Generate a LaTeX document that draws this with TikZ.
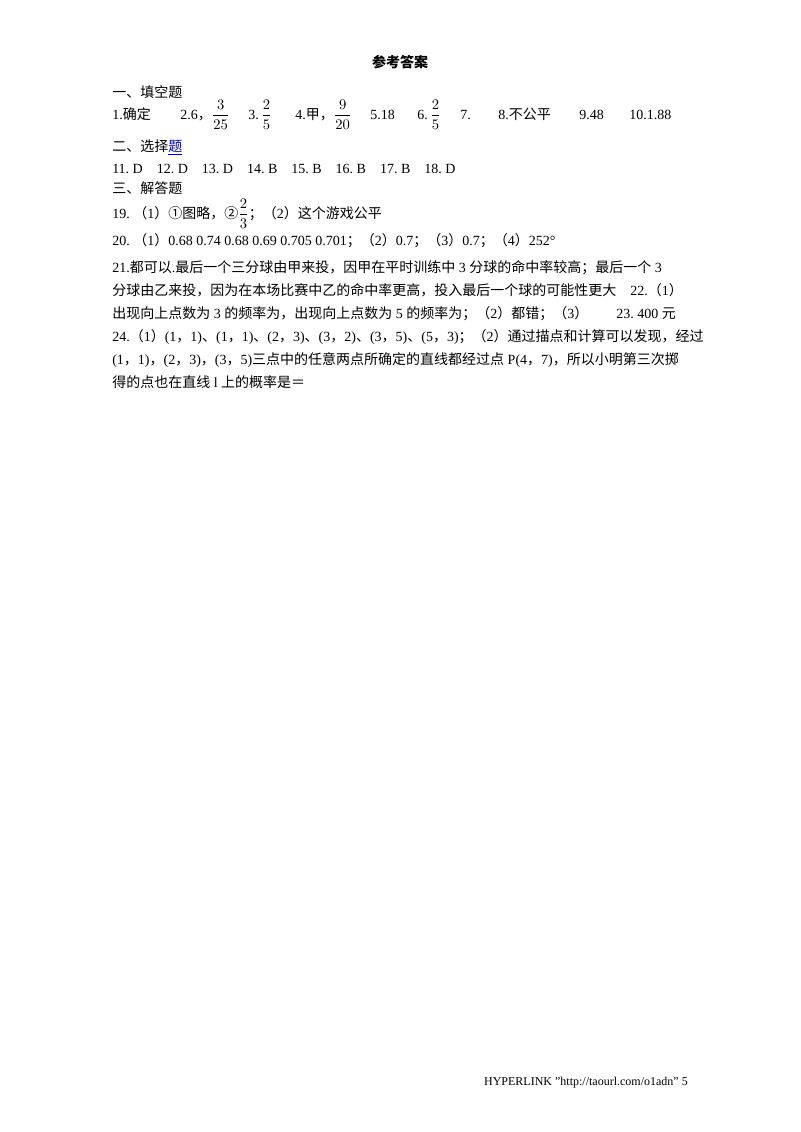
\documentclass[tikz,border=0pt]{standalone}
\usepackage{amsmath}
\usepackage{fontspec}
\setmainfont{Liberation Serif}
\newfontfamily\cjk{Noto Sans CJK SC}
\newcommand\lat{\rmfamily}
\XeTeXinterchartokenstate=1
\newXeTeXintercharclass\CJKcls
\count255="3000
\loop\XeTeXcharclass\count255=\CJKcls\advance\count255 1 \ifnum\count255<"A000 \repeat
\count255="FF00
\loop\XeTeXcharclass\count255=\CJKcls\advance\count255 1 \ifnum\count255<"FFF0 \repeat
\count255="2460
\loop\XeTeXcharclass\count255=\CJKcls\advance\count255 1 \ifnum\count255<"2474 \repeat
\XeTeXinterchartoks 0 \CJKcls = {\cjk}
\XeTeXinterchartoks 4095 \CJKcls = {\cjk}
\XeTeXinterchartoks \CJKcls 0 = {\lat}
\XeTeXinterchartoks \CJKcls 4095 = {\lat}
\begin{document}
\begin{tikzpicture}[x=0.75pt,y=-0.75pt,
  ln/.style={anchor=base west,inner sep=0pt,font=\fontsize{10.5}{12}\selectfont}]
\useasboundingbox (0,0) rectangle (800,1132);
\node[anchor=base,inner sep=0pt,font=\fontsize{10.5}{12}\selectfont\bfseries] (title) at (400,67) {参考答案};
\node[ln] (h1) at (112,97) {一、填空题};
\node[ln] (a1) at (112,119) {1.确定};
\node[ln] (a2) at (180,119) {2.6，$\dfrac{3}{25}$};
\node[ln] (a3) at (248,119) {3.$\,\dfrac{2}{5}$};
\node[ln] (a4) at (295,119) {4.甲，$\dfrac{9}{20}$};
\node[ln] (a5) at (370,119) {5.18};
\node[ln] (a6) at (417,119) {6.$\,\dfrac{2}{5}$};
\node[ln] (a7) at (460,119) {7.};
\node[ln] (a8) at (498,119) {8.不公平};
\node[ln] (a9) at (579,119) {9.48};
\node[ln] (a10) at (629,119) {10.1.88};
\node[ln] (h2) at (112,151) {二、选择\textcolor{blue!70!black}{\underline{题}}};
\node[ln] (b1) at (112,173) {11.\ D\quad 12.\ D\quad 13.\ D\quad 14.\ B\quad 15.\ B\quad 16.\ B\quad 17.\ B\quad 18.\ D};
\node[ln] (h3) at (112,193) {三、解答题};
\node[ln] (c19) at (112,218) {19.\ （1）①图略，②$\dfrac{2}{3}$；（2）这个游戏公平};
\node[ln] (c20) at (112,245) {20.\ （1）0.68\ 0.74\ 0.68\ 0.69\ 0.705\ 0.701；（2）0.7；（3）0.7；（4）252°};
\node[ln] (c21a) at (112,272) {21.都可以.最后一个三分球由甲来投，因甲在平时训练中 3 分球的命中率较高；最后一个 3};
\node[ln] (c21b) at (112,295) {分球由乙来投，因为在本场比赛中乙的命中率更高，投入最后一个球的可能性更大\quad 22.（1）};
\node[ln] (c22) at (112,318) {出现向上点数为 3 的频率为，出现向上点数为 5 的频率为；（2）都错；（3）\qquad 23.\ 400 元};
\node[ln] (c24a) at (112,341) {24.（1）(1，1)、(1，1)、(2，3)、(3，2)、(3，5)、(5，3)；（2）通过描点和计算可以发现，经过};
\node[ln] (c24b) at (112,364) {(1，1)，(2，3)，(3，5)三点中的任意两点所确定的直线都经过点 P(4，7)，所以小明第三次掷};
\node[ln] (c24c) at (112,387) {得的点也在直线 l 上的概率是＝};
\node[anchor=base east,inner sep=0pt,font=\fontsize{9}{10}\selectfont] (foot) at (688,1085) {HYPERLINK "http://taourl.com/o1adn" 5};
\end{tikzpicture}
\end{document}
